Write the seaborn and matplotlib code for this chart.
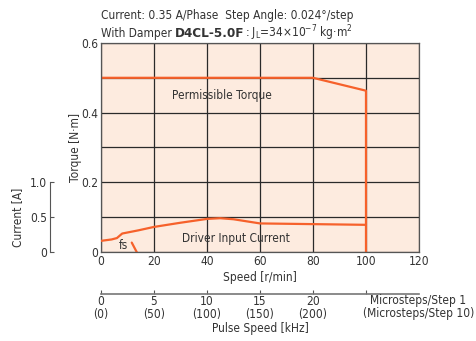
import matplotlib
matplotlib.use("Agg")
import matplotlib.pyplot as plt
import seaborn as sns
import numpy as np

# --- data ---
torque_speed = [0, 80, 100, 100]
torque_vals = [0.5, 0.5, 0.463, 0.0]

current_speed = [0, 4, 6, 8, 14, 20, 30, 40, 45, 50, 55, 60, 70, 80, 90, 100]
current_vals = [0.16, 0.18, 0.2, 0.265, 0.31, 0.36, 0.42, 0.475, 0.485, 0.47, 0.44, 0.41, 0.405, 0.40, 0.395, 0.39]

fs_speed = [11.6, 14.5]
fs_vals = [0.027, -0.015]

speed_ticks = [0, 20, 40, 60, 80, 100, 120]
torque_ticks = [0, 0.1, 0.2, 0.3, 0.4, 0.5, 0.6]
torque_labels = ["0", "", "0.2", "", "0.4", "", "0.6"]
current_ticks = [0, 0.5, 1.0]
current_labels = ["0", "0.5", "1.0"]
pulse_ticks = [0, 5, 10, 15, 20, 25]
pulse_labels = ["0\n(0)", "5\n(50)", "10\n(100)", "15\n(150)", "20\n(200)", ""]

ORANGE = "#f6612b"
BG = "#fdebdf"
GRID = "#2a2a2a"
TXT = "#333333"
FS = 8.6

sns.set_style("white")
plt.rcParams['font.family'] = ['DejaVu Sans']
plt.rcParams['font.stretch'] = 'condensed'
plt.rcParams['font.size'] = FS
plt.rcParams['text.color'] = TXT
plt.rcParams['axes.labelcolor'] = TXT
plt.rcParams['xtick.color'] = TXT
plt.rcParams['ytick.color'] = TXT
plt.rcParams['mathtext.fontset'] = 'custom'
plt.rcParams['mathtext.rm'] = 'DejaVu Sans:stretch=condensed'

fig = plt.figure(figsize=(4.76, 3.41), dpi=100)
ax = fig.add_axes([0.2122, 0.261, 0.668, 0.613])
ax.set_facecolor(BG)

# torque axis
ax.set_xlim(0, 120)
ax.set_ylim(0, 0.6)
ax.set_xticks(speed_ticks)
ax.set_yticks(torque_ticks)
ax.set_yticklabels(torque_labels)
ax.tick_params(length=0, pad=2, labelsize=FS)
ax.grid(True, color=GRID, linewidth=0.9)
for s in ax.spines.values():
    s.set_color("#555555")
    s.set_linewidth(0.9)
ax.set_xlabel("Speed [r/min]", labelpad=2)
ax.set_ylabel("Torque [N·m]", labelpad=-1)

sns.lineplot(x=torque_speed, y=torque_vals, ax=ax, color=ORANGE, linewidth=1.6,
             estimator=None, sort=False)
sns.lineplot(x=fs_speed, y=fs_vals, ax=ax, color=ORANGE, linewidth=1.6,
             estimator=None, sort=False)

# current axis
ax2 = ax.twinx()
ax2.set_ylim(0, 3.0)
sns.lineplot(x=current_speed, y=current_vals, ax=ax2, color=ORANGE, linewidth=1.6,
             estimator=None, sort=False)
ax2.yaxis.set_ticks_position("left")
ax2.yaxis.set_label_position("left")
ax2.spines["left"].set_position(("axes", -0.16))
ax2.spines["left"].set_bounds(0, 1.0)
ax2.spines["left"].set_color("#555555")
for k in ["right", "top", "bottom"]:
    ax2.spines[k].set_visible(False)
ax2.set_yticks(current_ticks)
ax2.set_yticklabels(current_labels)
ax2.tick_params(axis="y", direction="in", length=3, pad=2, labelsize=FS, color="#555555")
ax2.set_ylabel("Current [A]")
ax2.yaxis.set_label_coords(-0.243, 0.167)
ax2.set_xlim(0, 120)

# pulse speed axis
sec = ax.secondary_xaxis(-0.201, functions=(lambda x: x / 4, lambda x: x * 4))
sec.set_xticks(pulse_ticks)
sec.set_xticklabels(pulse_labels)
for lbl in sec.get_xticklabels():
    lbl.set_linespacing(0.95)
sec.tick_params(direction="in", length=3, pad=1, labelsize=FS, color="#555555")
sec.spines["bottom"].set_color("#777777")
sec.spines["bottom"].set_linewidth(1.2)
sec.set_xlabel("Pulse Speed [kHz]", labelpad=1)
fig.text(474 / 476, 1 - 294 / 341, "Microsteps/Step 1\n(Microsteps/Step 10)",
         ha="right", va="top", fontsize=FS, linespacing=0.95, multialignment="center")

# annotations
ax.text(45.5, 0.45, "Permissible Torque", ha="center", va="center", fontsize=FS)
ax.text(51, 0.04, "Driver Input Current", ha="center", va="center", fontsize=FS)
ax.text(8.3, 0.018, "fs", ha="center", va="center", fontsize=FS)

# header
fig.text(101 / 476, 1 - 15 / 341, "Current: 0.35 A/Phase  Step Angle: 0.024°/step",
         ha="left", va="center", fontsize=FS)
y2 = 1 - 37 / 341
t1 = fig.text(101 / 476, y2, "With Damper ", ha="left", va="baseline", fontsize=FS)
fig.canvas.draw()
r = fig.canvas.get_renderer()
x2 = fig.transFigure.inverted().transform(t1.get_window_extent(r))[1, 0]
t2 = fig.text(x2, y2, "D4CL-5.0F", ha="left", va="baseline", fontsize=FS + 1, fontweight="bold")
x3 = fig.transFigure.inverted().transform(t2.get_window_extent(r))[1, 0]
fig.text(x3, y2, r": J$_\mathregular{L}$=34×10$^{\mathregular{-7}}$ kg·m$^\mathregular{2}$",
         ha="left", va="baseline", fontsize=FS)

fig.savefig("out.png", dpi=100)
